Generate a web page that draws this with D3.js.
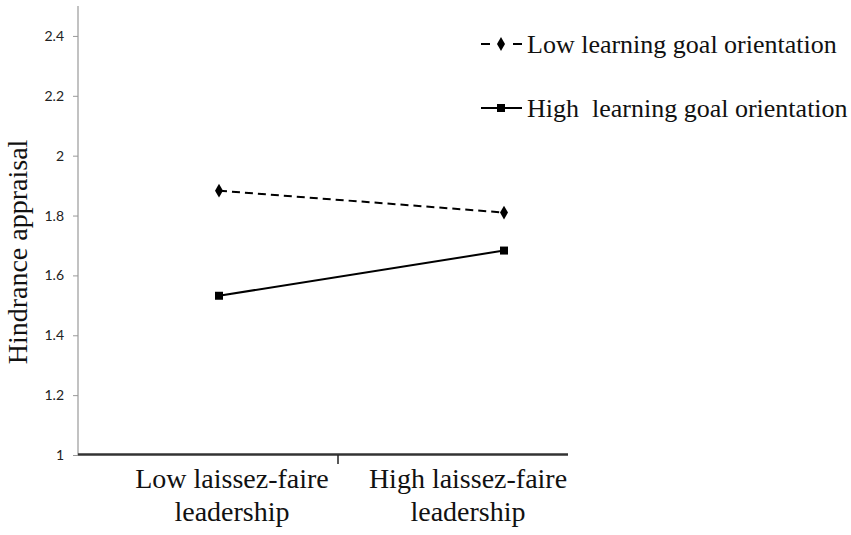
<!DOCTYPE html>
<html>
<head>
<meta charset="utf-8">
<script src="https://cdn.jsdelivr.net/npm/d3@7"></script>
<style>
  body { margin: 0; background: #fff; }
</style>
</head>
<body>
<div id="chart"></div>
<script>
// data
const categories = ['Low laissez-faire leadership', 'High laissez-faire leadership'];
const categoryLines = [['Low laissez-faire', 'leadership'], ['High laissez-faire', 'leadership']];
const seriesNames = ['Low learning goal orientation', 'High  learning goal orientation'];
const lowLGO = [1.883, 1.81];
const highLGO = [1.532, 1.683];
const yTicks = [1, 1.2, 1.4, 1.6, 1.8, 2, 2.2, 2.4];

const widthSvg = 851;
const heightSvg = 535;
const axisLeft = 78;
const axisRight = 568;
const axisTop = 6;
const axisBottom = 455;
const serif = '"Liberation Serif"';

const svg = d3.select('#chart').append('svg')
  .attr('width', widthSvg)
  .attr('height', heightSvg);

const scaleY = d3.scaleLinear()
  .domain([1, 2.5])
  .range([axisBottom, axisTop]);

// markers and labels do not sit on the same centres in the original
const scaleX = d3.scalePoint()
  .domain(categories)
  .range([219, 504]);

const scaleLabel = d3.scalePoint()
  .domain(categories)
  .range([232, 468]);

// y axis
const axisY = d3.axisLeft(scaleY)
  .tickValues(yTicks)
  .tickSize(5)
  .tickFormat(d3.format('~g'));

const gY = svg.append('g')
  .attr('transform', `translate(${axisLeft},0)`)
  .call(axisY);

gY.select('.domain')
  .attr('d', `M0,${axisTop}V${axisBottom}`)
  .attr('stroke', '#999')
  .attr('stroke-width', 1.2);

gY.selectAll('.tick line').attr('stroke', '#999');
gY.selectAll('.tick text')
  .attr('x', -14)
  .attr('fill', '#222')
  .style('font-family', 'Lato')
  .style('font-size', '14px');

svg.append('text')
  .attr('transform', `translate(27,252) rotate(-90)`)
  .attr('text-anchor', 'middle')
  .style('font-family', serif)
  .style('font-size', '28px')
  .attr('fill', '#111')
  .text('Hindrance appraisal');

// x axis
svg.append('line')
  .attr('x1', axisLeft).attr('x2', axisRight)
  .attr('y1', axisBottom - 0.5).attr('y2', axisBottom - 0.5)
  .attr('stroke', '#333')
  .attr('stroke-width', 2.5);

svg.append('line')
  .attr('x1', 338).attr('x2', 338)
  .attr('y1', axisBottom).attr('y2', 464)
  .attr('stroke', '#222')
  .attr('stroke-width', 1.5);

categories.forEach((c, i) => {
  categoryLines[i].forEach((line, j) => {
    svg.append('text')
      .attr('x', scaleLabel(c))
      .attr('y', 488 + j * 33)
      .attr('text-anchor', 'middle')
      .style('font-family', serif)
      .style('font-size', '28px')
      .attr('fill', '#111')
      .text(line);
  });
});

// series
const lineGen = d3.line()
  .x((d, i) => scaleX(categories[i]))
  .y(d => scaleY(d));

svg.append('path')
  .datum(lowLGO)
  .attr('d', lineGen)
  .attr('fill', 'none')
  .attr('stroke', '#000')
  .attr('stroke-width', 2)
  .attr('stroke-dasharray', '8,5');

svg.append('path')
  .datum(highLGO)
  .attr('d', lineGen)
  .attr('fill', 'none')
  .attr('stroke', '#000')
  .attr('stroke-width', 2);

const diamond = d3.symbol().type(d3.symbolDiamond).size(55);
const square = d3.symbol().type(d3.symbolSquare).size(64);

svg.selectAll('.mk-low')
  .data(lowLGO)
  .enter()
  .append('path')
  .attr('class', 'mk-low')
  .attr('d', diamond)
  .attr('transform', (d, i) => `translate(${scaleX(categories[i])},${scaleY(d)})`)
  .attr('fill', '#000');

svg.selectAll('.mk-high')
  .data(highLGO)
  .enter()
  .append('path')
  .attr('class', 'mk-high')
  .attr('d', square)
  .attr('transform', (d, i) => `translate(${scaleX(categories[i])},${scaleY(d)})`)
  .attr('fill', '#000');

// legend
const legendRows = [
  { name: seriesNames[0], y: 44, dash: '9,23', symbol: diamond },
  { name: seriesNames[1], y: 108, dash: null, symbol: square }
];

legendRows.forEach(r => {
  svg.append('line')
    .attr('x1', 481).attr('x2', 522)
    .attr('y1', r.y).attr('y2', r.y)
    .attr('stroke', '#000')
    .attr('stroke-width', 2)
    .attr('stroke-dasharray', r.dash);
  svg.append('path')
    .attr('d', r.symbol)
    .attr('transform', `translate(501,${r.y})`)
    .attr('fill', '#000');
  svg.append('text')
    .attr('x', 527)
    .attr('y', r.y + 9)
    .style('font-family', serif)
    .style('font-size', '26px')
    .attr('fill', '#111')
    .text(r.name.replace(/  /g, ' \u00a0'));
});
</script>
</body>
</html>
